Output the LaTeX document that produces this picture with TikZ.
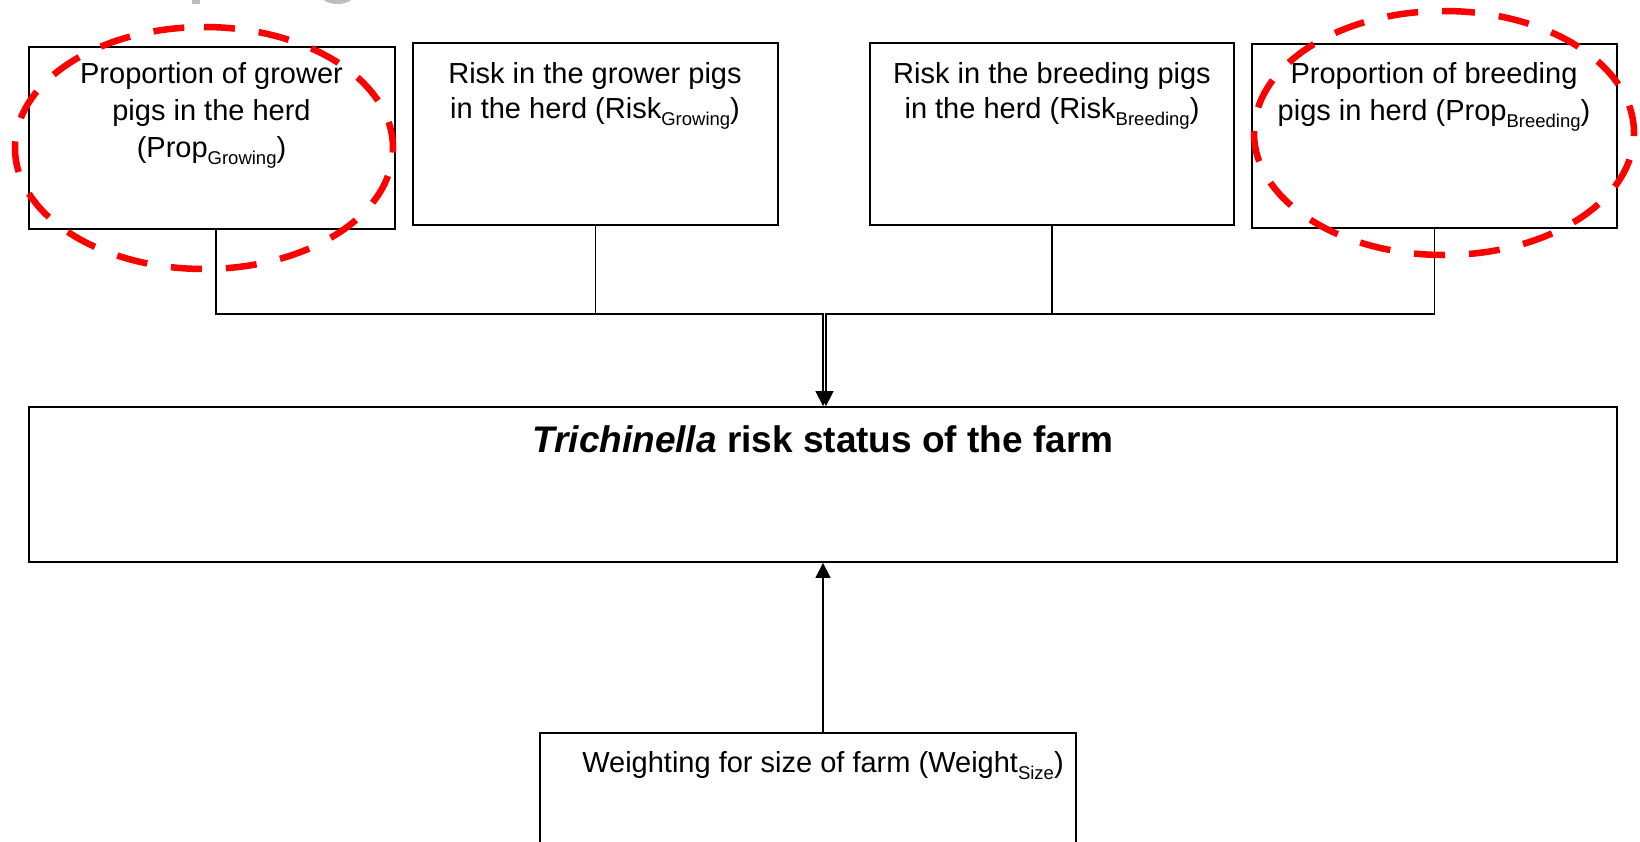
\documentclass[tikz,border=0pt]{standalone}
\usepackage{fontspec}
\setmainfont{Liberation Sans}
\usetikzlibrary{arrows.meta}
\newcommand\mysub[1]{\raisebox{-7pt}{\fontsize{18.5}{20}\selectfont #1}}
\definecolor{fragray}{RGB}{190,190,190}
\tikzset{
  box/.style={draw=black, line width=1.8pt, rectangle, inner sep=0pt},
  txt/.style={anchor=base, align=center, inner sep=0pt, font=\fontsize{29}{36.7}\selectfont},
  conn/.style={draw=black, line width=1.4pt},
  arr/.style={-{Triangle[width=15pt,length=15pt]}},
  redring/.style={draw=red, line width=6.5pt, dash pattern=on 31pt off 24pt}
}
\begin{document}
\begin{tikzpicture}[x=1pt,y=-1pt]
\useasboundingbox (0,0) rectangle (1640,841);
\clip (0,0) rectangle (1640,841);
% cut-off grey fragments at top
\fill[fragray] (192,-2) rectangle (200,3.5);
\draw[fragray, line width=4pt] (323,-5) arc[start angle=180, end angle=0, x radius=14.5, y radius=7];
% boxes
\node[box, minimum width=366pt, minimum height=182pt] (b1) at (212,138) {};
\node[box, minimum width=365pt, minimum height=182pt] (b2) at (595.5,134) {};
\node[box, minimum width=364pt, minimum height=182pt] (b3) at (1052,134) {};
\node[box, minimum width=365pt, minimum height=184pt] (b4) at (1434.5,136) {};
\node[box, minimum width=1588pt, minimum height=155pt] (trich) at (823,484.5) {};
\node[box, minimum width=536pt, minimum height=160pt] (w) at (808,813) {};
% texts (anchor base = baseline of last line)
\node[txt] (t1) at (211.5,157) {Proportion of grower\\pigs in the herd\\(Prop\mysub{Growing})};
\node[txt, font=\fontsize{29}{35}\selectfont] (t2) at (595,118) {Risk in the grower pigs\\in the herd (Risk\mysub{Growing})};
\node[txt, font=\fontsize{29}{35}\selectfont] (t3) at (1052,118) {Risk in the breeding pigs\\in the herd (Risk\mysub{Breeding})};
\node[txt] (t4) at (1434,120) {Proportion of breeding\\pigs in herd (Prop\mysub{Breeding})};
\node[txt, font=\fontsize{37}{44}\selectfont\bfseries] (tt) at (823,452) {\textit{Trichinella} risk status of the farm};
\node[txt] (tw) at (823,772) {Weighting for size of farm (Weight\mysub{Size})};
% connectors
\coordinate (jl) at ([yshift=92pt]trich.north);
\coordinate (jr) at ([xshift=3pt,yshift=92pt]trich.north);
\draw[conn, arr] ([xshift=4pt]b1.south) |- (jl) -- (trich.north);
\draw[conn, arr] (b4.south) |- (jr) -- ([xshift=3pt]trich.north);
\draw[conn] (b2.south) -- (b2.south |- jl);
\draw[conn] (b3.south) -- (b3.south |- jr);
\draw[conn, arr] (w.north -| trich.south) -- (trich.south);
% red dashed ellipses
\draw[redring] (204,27) arc[start angle=270, end angle=630, x radius=189, y radius=121];
\draw[redring] (1444,11) arc[start angle=270, end angle=630, x radius=190, y radius=122];
\end{tikzpicture}
\end{document}
